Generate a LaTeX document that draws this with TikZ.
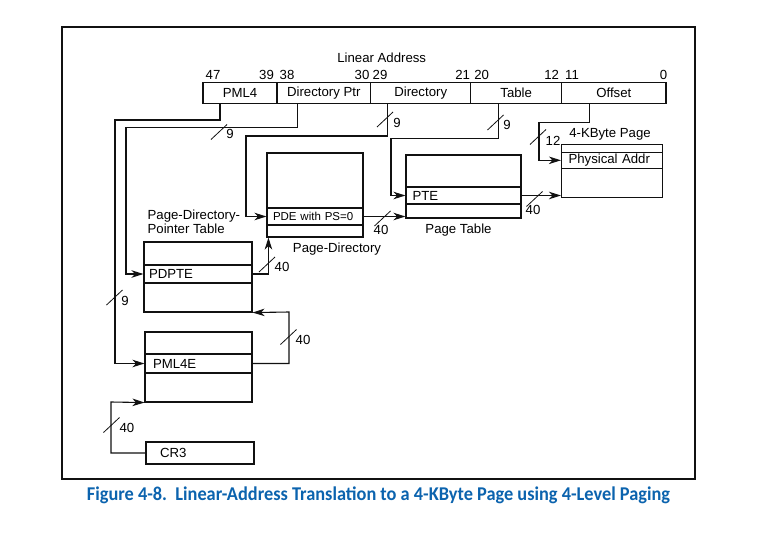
\documentclass[tikz,border=0pt]{standalone}
\usepackage{fontspec}
\setmainfont{Liberation Sans}
\newfontfamily\capfont[FakeStretch=0.94]{Carlito}
\usetikzlibrary{arrows.meta, positioning}
\definecolor{atInk}{HTML}{111111}
\definecolor{atBlue}{HTML}{0B63AE}
\tikzset{
  atfield/.style={rectangle, draw=atInk, line width=1.1pt, minimum height=21pt,
    inner sep=0pt, font=\fontsize{13.2}{15}\selectfont},
  attable/.style={rectangle, draw=atInk, line width=1.1pt, inner sep=0pt},
  atentry/.style={rectangle, draw=atInk, line width=1.1pt, inner xsep=6pt,
    inner ysep=0pt, align=left, font=\fontsize{13.2}{15}\selectfont},
  atlabel/.style={inner sep=0pt, align=left, font=\fontsize{13.2}{12}\selectfont},
  atarrow/.style={-{Stealth[length=12pt, width=7.5pt, inset=3.5pt]}, line width=1.1pt, atInk},
  attick/.style={line width=0.8pt, atInk},
  atwidth/.style={inner sep=0pt, font=\fontsize{13.2}{15}\selectfont}
}

\begin{document}
\begin{tikzpicture}[x=1pt, y=-1pt]
  \useasboundingbox (0,0) rectangle (770,552);
  \draw[line width=1.3pt, atInk] (62,27) rectangle (695,479);

  % linear address
  \node[atlabel] (latitle) at (381.7,57.7) {Linear Address};
  \node[atfield, minimum width=74pt] (fpml4) at (240,92.8) {PML4};
  \node[atfield, minimum width=93.7pt] (fdirptr) at (323.8,92.8) {Directory Ptr};
  \node[atfield, minimum width=100pt] (fdir) at (420.7,92.8) {Directory};
  \node[atfield, minimum width=91pt] (ftable) at (516.2,92.8) {Table};
  \node[atfield, minimum width=104.3pt] (foffset) at (613.8,92.8) {Offset};
  \foreach \bx/\bn in {213/47, 266.5/39, 287/38, 362/30, 380/29, 462.7/21,
                       481.7/20, 551.7/12, 572/11, 663.5/0}
    \node[atlabel] at (\bx,75) {\bn};

  % tables
  \node[attable, minimum width=107pt, minimum height=70pt] (pml4) at (198.5,367) {};
  \node[atentry, inner xsep=8pt, text width=91pt, minimum height=19pt] (pml4e) at (198.5,363.5) {PML4E};
  \node[attable, minimum width=108pt, minimum height=70pt] (pdpt) at (198,277) {};
  \node[atentry, inner xsep=5pt, text width=98pt, minimum height=18pt] (pdpte) at (198,274) {PDPTE};
  \node[attable, minimum width=96pt, minimum height=84pt] (pd) at (315,195) {};
  \node[atentry, text width=84pt, minimum height=17pt,
    font=\fontsize{11.5}{13}\selectfont] (pde) at (315,216.5) {PDE with PS=0};
  \node[attable, minimum width=115pt, minimum height=63pt] (pt) at (463.5,186.5) {};
  \node[atentry, inner xsep=6.5pt, text width=102pt, minimum height=17pt] (pte) at (463.5,195.5) {PTE};
  \node[attable, minimum width=101pt, minimum height=53pt] (page) at (612,170.8) {};
  \node[atentry, inner xsep=7pt, text width=87pt, minimum height=16pt] (physaddr) at (612,160.3) {Physical Addr};
  \node[atentry, inner xsep=14pt, text width=80pt, minimum height=22pt] (cr3) at (200,453) {CR3};

  \node[atlabel, anchor=south west] (pdptname) at ([shift={(4pt,8pt)}]pdpt.north west) {Page-Directory-\\Pointer Table};
  \node[atlabel, anchor=north] (pdname) at ([shift={(22pt,-5pt)}]pd.south) {Page-Directory};
  \node[atlabel, anchor=north] (ptname) at ([shift={(-5pt,-5pt)}]pt.south) {Page Table};
  \node[atlabel, anchor=south] (pagename) at ([shift={(-2pt,3pt)}]page.north) {4-KByte Page};

  % bends
  \coordinate (pml4bend) at (115,120);
  \coordinate (dirptrbend) at (126,127.3);
  \coordinate (dirbend) at (246,136);
  \coordinate (tablebend) at (391,138.3);
  \coordinate (offsetbend) at (539,122.3);
  \coordinate (pdptbend) at (289,312);
  \coordinate (cr3bend) at (111,402);

  % index fields
  \draw[atarrow] ([xshift=-20pt]fpml4.south) |- (pml4bend) |- (pml4e.west);
  \draw[atarrow] ([xshift=-26.5pt]fdirptr.south) |- (dirptrbend) |- (pdpte.west);
  \draw[atarrow] ([xshift=-33pt]fdir.south) |- (dirbend) |- (pde.west);
  \draw[atarrow] ([xshift=-18pt]ftable.south) |- (tablebend) |- (pte.west);
  \draw[atarrow] ([xshift=-24.5pt]foffset.south) |- (offsetbend) |- (physaddr.west);

  % base addresses
  \draw[atarrow] (cr3.west) -| (cr3bend) -- (pml4.south west);
  \draw[atarrow] (pml4e.east) -| (pdptbend) -- (pdpt.south east);
  \draw[atarrow] (pdpte.east) -| ([xshift=2pt]pd.south west);
  \draw[atarrow] (pde.east) -- (pde.east -| pt.west);
  \draw[atarrow] (pte.east) -- (pte.east -| page.west);

  % bus widths
  \foreach \tx/\ty/\lx/\ly/\bw in {114.5/297.5/125/301/9, 219/132/230/134/9,
      385/119.5/397/123/9, 495.5/122.5/507/125/9, 538/137/553/141/12,
      382.5/218.5/381/230/40, 534.5/199/533/210/40, 267/264.5/282/267/40,
      288.5/337/303/340/40, 111.5/425/127/428/40}
  {
    \draw[attick] (\tx,\ty) +(-8,7.5) -- +(8,-7.5);
    \node[atwidth] at (\lx,\ly) {\bw};
  }

  \node[text=atBlue, inner sep=0pt, font=\capfont\bfseries\fontsize{19.5}{21}\selectfont]
    (caption) at (378.5,495) {Figure 4-8.\ \ Linear-Address Translation to a 4-KByte Page using 4-Level Paging};
\end{tikzpicture}
\end{document}
